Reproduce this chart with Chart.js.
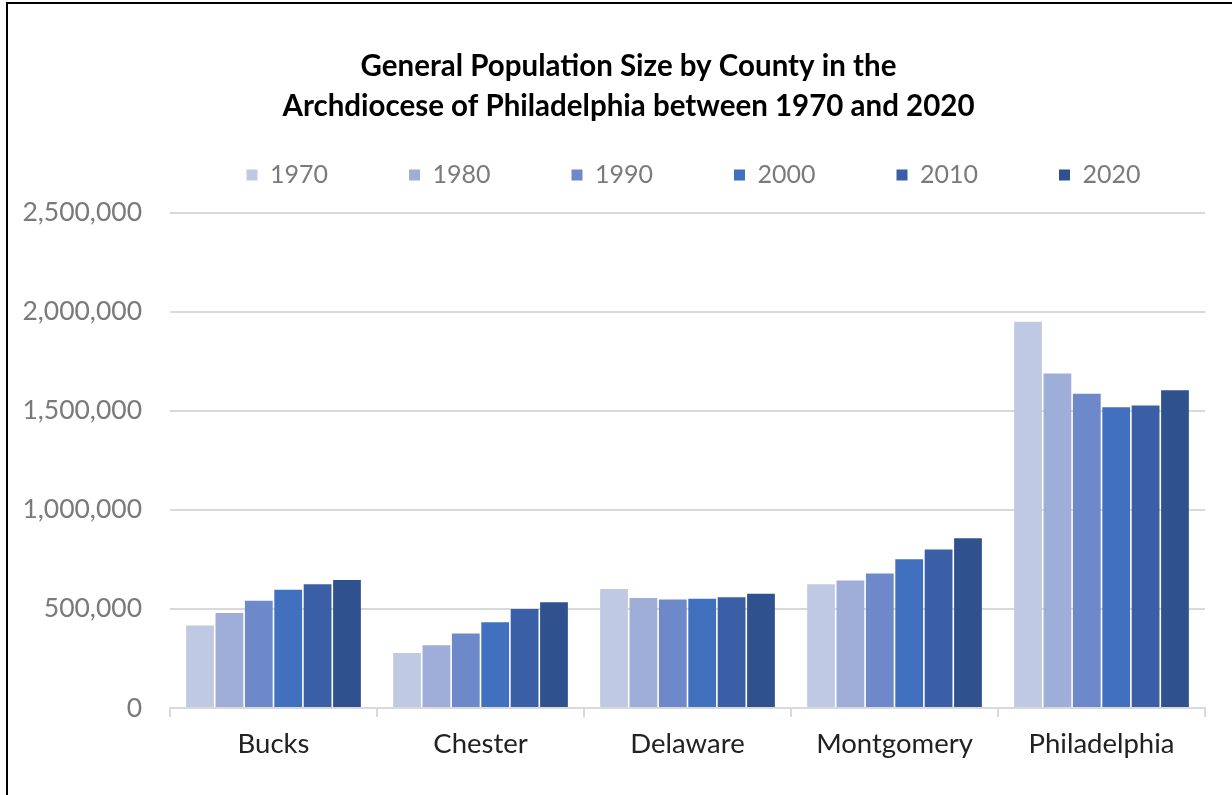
<!DOCTYPE html>
<html>
<head>
<meta charset="utf-8">
<script src="https://cdn.jsdelivr.net/npm/chart.js@4"></script>
<style>
  html, body { margin: 0; padding: 0; background: #fff; overflow: hidden; }
  .frame { position: absolute; left: 6px; top: 2px; width: 1300px; height: 900px;
           border-left: 2px solid #000; border-top: 2px solid #000; }
  .wrap { position: absolute; left: 0; top: 0; width: 1241px; height: 791px; }
</style>
</head>
<body>
<div class="frame"><div class="wrap"><canvas id="chart"></canvas></div></div>
<script>
// ── Data ──────────────────────────────────────────────────────────────────
const counties = ['Bucks', 'Chester', 'Delaware', 'Montgomery', 'Philadelphia'];
const years    = ['1970', '1980', '1990', '2000', '2010', '2020'];

const pop1970 = [416000, 278000, 601000, 624000, 1949000];
const pop1980 = [479000, 316000, 555000, 643000, 1688000];
const pop1990 = [541000, 376000, 548000, 678000, 1586000];
const pop2000 = [597000, 433000, 551000, 750000, 1518000];
const pop2010 = [625000, 499000, 559000, 800000, 1526000];
const pop2020 = [646000, 534000, 576000, 856000, 1603000];

const yTicks = [0, 500000, 1000000, 1500000, 2000000, 2500000];

const seriesValues = [pop1970, pop1980, pop1990, pop2000, pop2010, pop2020];
const colors = ['#c0c9e4', '#9faed8', '#6e89c9', '#4170be', '#3a5fa6', '#2f528f'];

const FONT = 'Lato, "Open Sans", sans-serif';
const GRAY = '#7a7a7a';
const GRID = '#d9d9d9';

// Excel-like placement: title centred on the whole chart object,
// legend on one wide row with a gap below it
const excelLayout = {
  id: 'excelLayout',
  beforeLayout(chart) {
    const lg = chart.legend;
    if (lg && !lg._patched) {
      const fit = lg.fit;
      lg.fit = function () {
        const mw = this.maxWidth;
        this.maxWidth = mw + 300;
        fit.call(this);
        this.maxWidth = mw;
        this.width = Math.min(this.width, mw);
        this.height += 15;
      };
      lg._patched = true;
    }
  },
  afterLayout(chart) {
    if (chart.titleBlock) { chart.titleBlock.left = 0; chart.titleBlock.right = chart.width; }
    if (chart.legend) { chart.legend.left -= 32; chart.legend.right += 44; }
  }
};

new Chart(document.getElementById('chart'), {
  type: 'bar',
  data: {
    labels: counties,
    datasets: years.map((y, i) => ({
      label: y,
      data: seriesValues[i],
      backgroundColor: colors[i],
      borderWidth: 0,
      categoryPercentage: 0.852,
      barPercentage: 0.945
    }))
  },
  plugins: [excelLayout],
  options: {
    responsive: true, maintainAspectRatio: false, animation: false,
    layout: { padding: { left: 12, right: 44, top: 0, bottom: 23 } },
    plugins: {
      title: {
        display: true,
        text: ['General Population Size by County in the',
               'Archdiocese of Philadelphia between 1970 and 2020'],
        color: '#000',
        font: { family: FONT, size: 29.5, weight: 'bold', lineHeight: 1.356 },
        padding: { top: 42, bottom: -44.5 }
      },
      legend: {
        position: 'top', fullSize: false,
        labels: { color: GRAY, boxWidth: 11, boxHeight: 11, padding: 81,
                  font: { family: FONT, size: 25 } }
      },
      tooltip: { enabled: false }
    },
    scales: {
      x: {
        grid: { display: true, drawOnChartArea: false, drawTicks: true, tickLength: 9,
                color: GRID, lineWidth: 2, offset: true },
        border: { display: true, color: GRID, width: 2 },
        ticks: { color: '#222', padding: 11, font: { family: FONT, size: 27.5 } }
      },
      y: {
        min: 0, max: 2500000,
        afterBuildTicks: axis => { axis.ticks = yTicks.map(v => ({ value: v })); },
        afterFit: axis => { axis.width = 150; },
        grid: { color: GRID, lineWidth: 2, drawTicks: false },
        border: { display: false },
        ticks: { color: GRAY, padding: 28, font: { family: FONT, size: 26.5 },
                 callback: v => v.toLocaleString('en-US') }
      }
    }
  }
});
</script>
</body>
</html>
